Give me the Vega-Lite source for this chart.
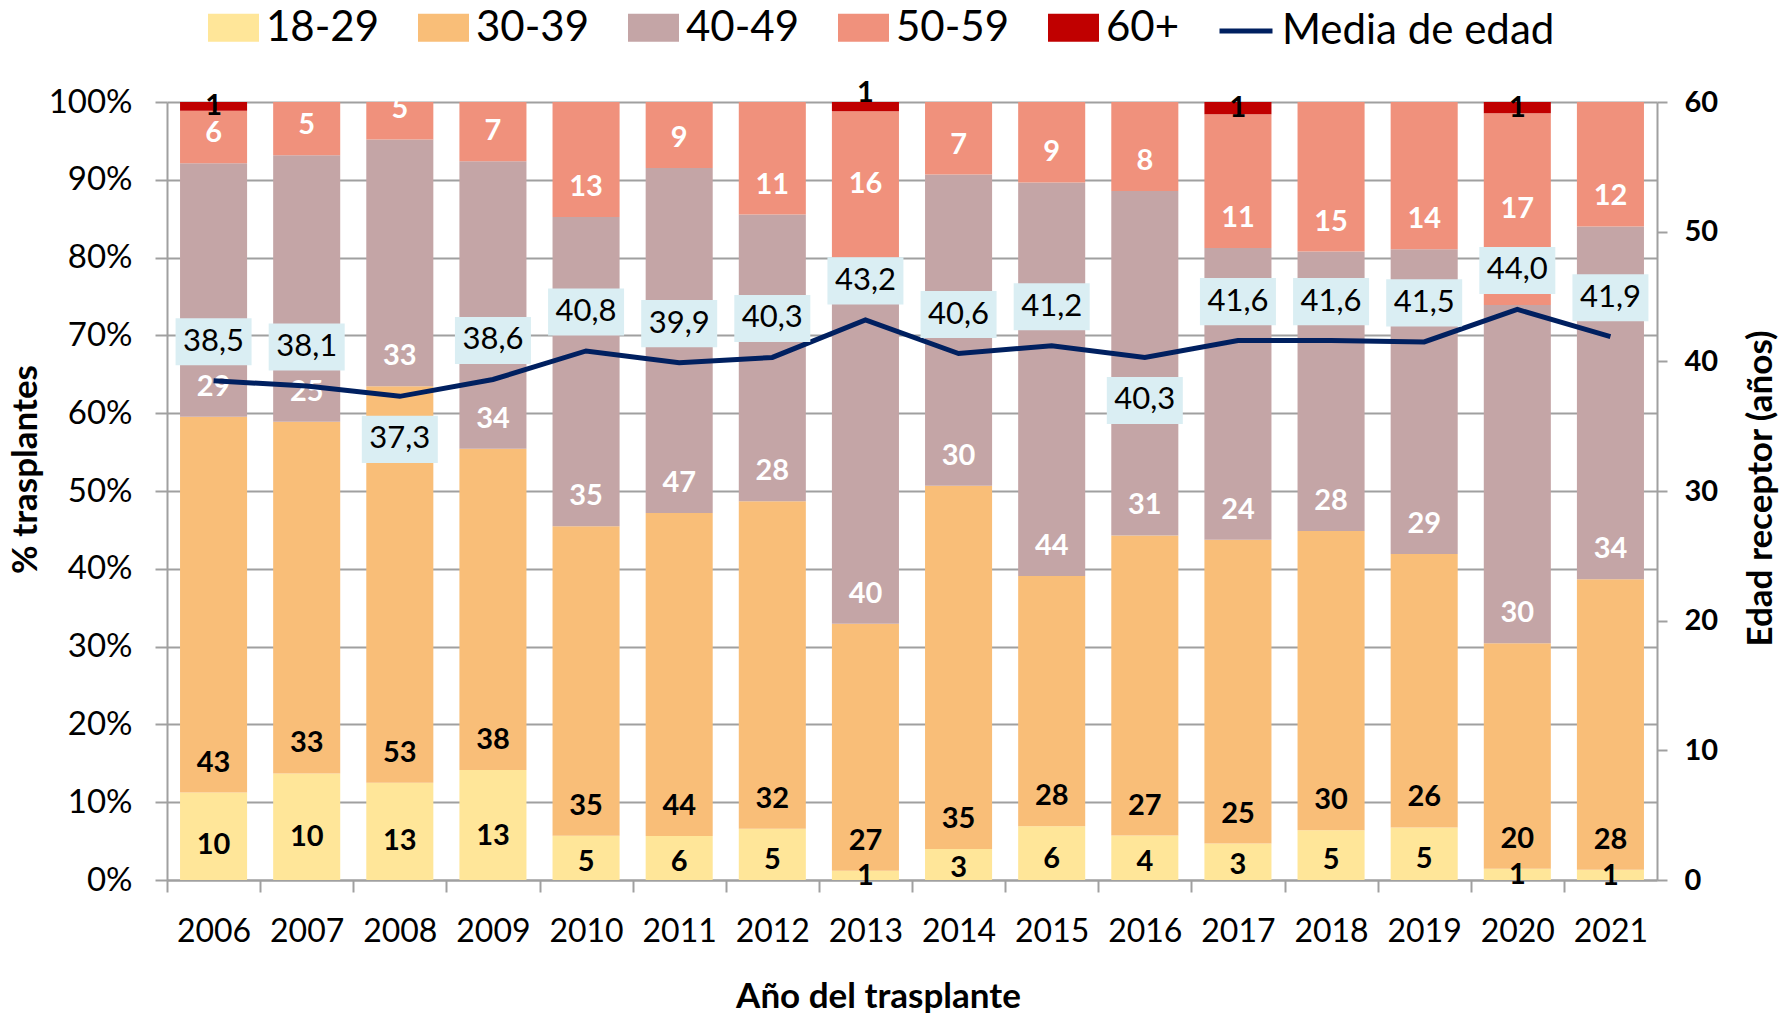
{
  "$schema": "https://vega.github.io/schema/vega-lite/v6.json",
  "width": 1490,
  "height": 778,
  "autosize": {"type": "none"},
  "padding": {"left": 167, "top": 102, "right": 124, "bottom": 133},
  "config": {
    "font": "Lato",
    "view": {"stroke": null},
    "locale": {"number": {"decimal": ",", "thousands": ".", "grouping": [3], "currency": ["", " €"]}}
  },
  "datasets": {
    "grupos": [
      {"anio": "2006", "grp": "18-29", "n": 10}, {"anio": "2006", "grp": "30-39", "n": 43}, {"anio": "2006", "grp": "40-49", "n": 29}, {"anio": "2006", "grp": "50-59", "n": 6}, {"anio": "2006", "grp": "60+", "n": 1},
      {"anio": "2007", "grp": "18-29", "n": 10}, {"anio": "2007", "grp": "30-39", "n": 33}, {"anio": "2007", "grp": "40-49", "n": 25}, {"anio": "2007", "grp": "50-59", "n": 5},
      {"anio": "2008", "grp": "18-29", "n": 13}, {"anio": "2008", "grp": "30-39", "n": 53}, {"anio": "2008", "grp": "40-49", "n": 33}, {"anio": "2008", "grp": "50-59", "n": 5},
      {"anio": "2009", "grp": "18-29", "n": 13}, {"anio": "2009", "grp": "30-39", "n": 38}, {"anio": "2009", "grp": "40-49", "n": 34}, {"anio": "2009", "grp": "50-59", "n": 7},
      {"anio": "2010", "grp": "18-29", "n": 5}, {"anio": "2010", "grp": "30-39", "n": 35}, {"anio": "2010", "grp": "40-49", "n": 35}, {"anio": "2010", "grp": "50-59", "n": 13},
      {"anio": "2011", "grp": "18-29", "n": 6}, {"anio": "2011", "grp": "30-39", "n": 44}, {"anio": "2011", "grp": "40-49", "n": 47}, {"anio": "2011", "grp": "50-59", "n": 9},
      {"anio": "2012", "grp": "18-29", "n": 5}, {"anio": "2012", "grp": "30-39", "n": 32}, {"anio": "2012", "grp": "40-49", "n": 28}, {"anio": "2012", "grp": "50-59", "n": 11},
      {"anio": "2013", "grp": "18-29", "n": 1}, {"anio": "2013", "grp": "30-39", "n": 27}, {"anio": "2013", "grp": "40-49", "n": 40}, {"anio": "2013", "grp": "50-59", "n": 16}, {"anio": "2013", "grp": "60+", "n": 1},
      {"anio": "2014", "grp": "18-29", "n": 3}, {"anio": "2014", "grp": "30-39", "n": 35}, {"anio": "2014", "grp": "40-49", "n": 30}, {"anio": "2014", "grp": "50-59", "n": 7},
      {"anio": "2015", "grp": "18-29", "n": 6}, {"anio": "2015", "grp": "30-39", "n": 28}, {"anio": "2015", "grp": "40-49", "n": 44}, {"anio": "2015", "grp": "50-59", "n": 9},
      {"anio": "2016", "grp": "18-29", "n": 4}, {"anio": "2016", "grp": "30-39", "n": 27}, {"anio": "2016", "grp": "40-49", "n": 31}, {"anio": "2016", "grp": "50-59", "n": 8},
      {"anio": "2017", "grp": "18-29", "n": 3}, {"anio": "2017", "grp": "30-39", "n": 25}, {"anio": "2017", "grp": "40-49", "n": 24}, {"anio": "2017", "grp": "50-59", "n": 11}, {"anio": "2017", "grp": "60+", "n": 1},
      {"anio": "2018", "grp": "18-29", "n": 5}, {"anio": "2018", "grp": "30-39", "n": 30}, {"anio": "2018", "grp": "40-49", "n": 28}, {"anio": "2018", "grp": "50-59", "n": 15},
      {"anio": "2019", "grp": "18-29", "n": 5}, {"anio": "2019", "grp": "30-39", "n": 26}, {"anio": "2019", "grp": "40-49", "n": 29}, {"anio": "2019", "grp": "50-59", "n": 14},
      {"anio": "2020", "grp": "18-29", "n": 1}, {"anio": "2020", "grp": "30-39", "n": 20}, {"anio": "2020", "grp": "40-49", "n": 30}, {"anio": "2020", "grp": "50-59", "n": 17}, {"anio": "2020", "grp": "60+", "n": 1},
      {"anio": "2021", "grp": "18-29", "n": 1}, {"anio": "2021", "grp": "30-39", "n": 28}, {"anio": "2021", "grp": "40-49", "n": 34}, {"anio": "2021", "grp": "50-59", "n": 12}
    ],
    "media": [
      {"anio": "2006", "edad": 38.5}, {"anio": "2007", "edad": 38.1}, {"anio": "2008", "edad": 37.3}, {"anio": "2009", "edad": 38.6},
      {"anio": "2010", "edad": 40.8}, {"anio": "2011", "edad": 39.9}, {"anio": "2012", "edad": 40.3}, {"anio": "2013", "edad": 43.2},
      {"anio": "2014", "edad": 40.6}, {"anio": "2015", "edad": 41.2}, {"anio": "2016", "edad": 40.3}, {"anio": "2017", "edad": 41.6},
      {"anio": "2018", "edad": 41.6}, {"anio": "2019", "edad": 41.5}, {"anio": "2020", "edad": 44.0}, {"anio": "2021", "edad": 41.9}
    ]
  },
  "layer": [
    {
      "data": {"name": "grupos"},
      "layer": [
        {
          "mark": {"type": "bar"},
          "encoding": {
            "x": {
              "field": "anio", "type": "ordinal",
              "scale": {"paddingInner": 0.28, "paddingOuter": 0.14},
              "axis": {
                "title": "Año del trasplante", "labelAngle": 0, "labelFontSize": 32, "labelColor": "black",
                "labelPadding": 24, "tickSize": 12, "tickColor": "#a0a0a0", "tickWidth": 2,
                "domainColor": "#a0a0a0", "domainWidth": 2, "bandPosition": 0, "tickOffset": -13, "labelOffset": 13,
                "titleFontSize": 35, "titleFontWeight": "bold", "titleColor": "black",
                "titleX": 711, "titleY": 116, "titleBaseline": "middle", "titleAlign": "center"
              }
            },
            "y": {
              "field": "n", "type": "quantitative", "stack": "normalize",
              "scale": {"domain": [0, 1]},
              "title": "% trasplantes",
              "axis": {
                "values": [0, 0.1, 0.2, 0.3, 0.4, 0.5, 0.6, 0.7, 0.8, 0.9, 1], "format": ".0%",
                "labelFontSize": 33, "labelColor": "black", "labelPadding": 23,
                "tickSize": 12, "tickColor": "#a0a0a0", "tickWidth": 2,
                "domainColor": "#a0a0a0", "domainWidth": 2,
                "grid": true, "gridColor": "#a0a0a0", "gridWidth": 2,
                "titleFontSize": 35, "titleFontWeight": "bold", "titleColor": "black",
                "titleX": -142, "titleY": 367, "titleAngle": -90, "titleBaseline": "middle", "titleAlign": "center"
              }
            },
            "color": {
              "field": "grp", "type": "nominal",
              "scale": {"domain": ["18-29", "30-39", "40-49", "50-59", "60+"], "range": ["#FFE699", "#F9BE78", "#C4A5A6", "#F0917C", "#C00000"]},
              "legend": {
                "orient": "none", "legendX": 41, "legendY": -100, "direction": "horizontal", "title": null,
                "symbolType": "M-1,-0.55L1,-0.55L1,0.55L-1,0.55Z", "symbolSize": 2601, "symbolStrokeWidth": 0,
                "labelFontSize": 42, "labelColor": "black", "labelOffset": 7, "columnPadding": 38, "labelLimit": 0
              }
            },
            "order": {"field": "grp", "sort": "ascending"}
          }
        },
        {
          "mark": {"type": "text", "fontWeight": "bold", "fontSize": 29, "baseline": "middle"},
          "encoding": {
            "x": {"field": "anio", "type": "ordinal"},
            "y": {"field": "n", "type": "quantitative", "stack": "normalize", "bandPosition": 0.4, "title": "% trasplantes"},
            "detail": {"field": "grp"},
            "order": {"field": "grp", "sort": "ascending"},
            "text": {"condition": {"test": "datum.grp == '18-29'", "field": "n", "type": "quantitative"}, "value": ""},
            "color": {"value": "black"}
          }
        },
        {
          "mark": {"type": "text", "fontWeight": "bold", "fontSize": 29, "baseline": "middle", "dy": -30},
          "encoding": {
            "x": {"field": "anio", "type": "ordinal"},
            "y": {"field": "n", "type": "quantitative", "stack": "normalize", "bandPosition": 0, "title": "% trasplantes"},
            "detail": {"field": "grp"},
            "order": {"field": "grp", "sort": "ascending"},
            "text": {"condition": {"test": "datum.grp == '30-39' || datum.grp == '40-49' || (datum.grp == '50-59' && datum.anio != '2013' && datum.anio != '2020')", "field": "n", "type": "quantitative"}, "value": ""},
            "color": {"condition": {"test": "datum.grp == '30-39'", "value": "black"}, "value": "white"}
          }
        },
        {
          "mark": {"type": "text", "fontWeight": "bold", "fontSize": 29, "baseline": "middle"},
          "encoding": {
            "x": {"field": "anio", "type": "ordinal"},
            "y": {"field": "n", "type": "quantitative", "stack": "normalize", "bandPosition": 0.5, "title": "% trasplantes"},
            "detail": {"field": "grp"},
            "order": {"field": "grp", "sort": "ascending"},
            "text": {"condition": {"test": "(datum.grp == '60+' && datum.anio != '2013') || (datum.grp == '50-59' && (datum.anio == '2013' || datum.anio == '2020'))", "field": "n", "type": "quantitative"}, "value": ""},
            "color": {"condition": {"test": "datum.grp == '50-59'", "value": "white"}, "value": "black"}
          }
        },
        {
          "mark": {"type": "text", "fontWeight": "bold", "fontSize": 29, "baseline": "middle", "dy": -9},
          "encoding": {
            "x": {"field": "anio", "type": "ordinal"},
            "y": {"field": "n", "type": "quantitative", "stack": "normalize", "bandPosition": 1, "title": "% trasplantes"},
            "detail": {"field": "grp"},
            "order": {"field": "grp", "sort": "ascending"},
            "text": {"condition": {"test": "datum.grp == '60+' && datum.anio == '2013'", "field": "n", "type": "quantitative"}, "value": ""},
            "color": {"value": "black"}
          }
        }
      ]
    },
    {
      "data": {"name": "media"},
      "layer": [
        {
          "mark": {"type": "line", "strokeWidth": 5},
          "encoding": {
            "x": {"field": "anio", "type": "ordinal"},
            "y": {
              "field": "edad", "type": "quantitative", "scale": {"domain": [0, 60]},
              "title": "Edad receptor (años)",
              "axis": {
                "orient": "right", "values": [0, 10, 20, 30, 40, 50, 60],
                "labelFontSize": 29, "labelFontWeight": "bold", "labelColor": "black", "labelPadding": 17,
                "tickSize": 10, "tickColor": "#a0a0a0", "tickWidth": 2,
                "domainColor": "#a0a0a0", "domainWidth": 2, "grid": false,
                "titleFontSize": 35, "titleFontWeight": "bold", "titleColor": "black",
                "titleX": 103, "titleY": 386, "titleAngle": -90, "titleBaseline": "middle", "titleAlign": "center"
              }
            },
            "color": {
              "datum": "Media de edad",
              "scale": {"range": ["#002060"]},
              "legend": {
                "orient": "none", "legendX": 1050, "legendY": -100, "title": null,
                "symbolType": "stroke", "symbolSize": 2809, "symbolStrokeWidth": 5,
                "labelFontSize": 42, "labelColor": "black", "labelOffset": 7, "labelLimit": 0
              }
            }
          }
        },
        {
          "transform": [{"filter": "datum.anio != '2008' && datum.anio != '2016'"}],
          "mark": {"type": "point", "shape": "M-1,-0.62L1,-0.62L1,0.62L-1,0.62Z", "size": 5776, "filled": true, "fill": "#DAEEF3", "opacity": 1, "strokeWidth": 0, "yOffset": -39},
          "encoding": {
            "x": {"field": "anio", "type": "ordinal"},
            "y": {"field": "edad", "type": "quantitative", "title": "Edad receptor (años)"}
          }
        },
        {
          "transform": [{"filter": "datum.anio == '2008' || datum.anio == '2016'"}],
          "mark": {"type": "point", "shape": "M-1,-0.62L1,-0.62L1,0.62L-1,0.62Z", "size": 5776, "filled": true, "fill": "#DAEEF3", "opacity": 1, "strokeWidth": 0, "yOffset": 43},
          "encoding": {
            "x": {"field": "anio", "type": "ordinal"},
            "y": {"field": "edad", "type": "quantitative", "title": "Edad receptor (años)"}
          }
        },
        {
          "transform": [{"filter": "datum.anio != '2008' && datum.anio != '2016'"}],
          "mark": {"type": "text", "fontSize": 31, "baseline": "middle", "color": "black", "yOffset": -39},
          "encoding": {
            "x": {"field": "anio", "type": "ordinal"},
            "y": {"field": "edad", "type": "quantitative", "title": "Edad receptor (años)"},
            "text": {"field": "edad", "type": "quantitative", "format": ".1f"}
          }
        },
        {
          "transform": [{"filter": "datum.anio == '2008' || datum.anio == '2016'"}],
          "mark": {"type": "text", "fontSize": 31, "baseline": "middle", "color": "black", "yOffset": 43},
          "encoding": {
            "x": {"field": "anio", "type": "ordinal"},
            "y": {"field": "edad", "type": "quantitative", "title": "Edad receptor (años)"},
            "text": {"field": "edad", "type": "quantitative", "format": ".1f"}
          }
        }
      ]
    }
  ],
  "resolve": {"scale": {"y": "independent", "color": "independent"}}
}
